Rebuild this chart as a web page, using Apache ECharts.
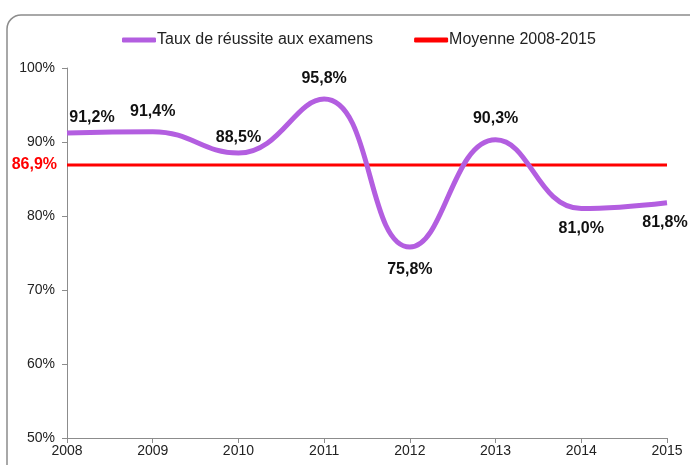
<!DOCTYPE html>
<html>
<head>
<meta charset="utf-8">
<script src="https://cdn.jsdelivr.net/npm/echarts@6/dist/echarts.min.js"></script>
<style>
  html, body { margin: 0; padding: 0; background: #fff; }
  #main { width: 690px; height: 465px; }
</style>
</head>
<body>
<div id="main"></div>
<script>
var annees = ['2008', '2009', '2010', '2011', '2012', '2013', '2014', '2015'];
var tauxReussite = [91.2, 91.4, 88.5, 95.8, 75.8, 90.3, 81.0, 81.8];
var moyenne = [86.9, 86.9, 86.9, 86.9, 86.9, 86.9, 86.9, 86.9];

// placement des étiquettes (style uniquement)
var posEtiquettes = [
    { position: 'top', offset: [25, 0] },
    { position: 'top', offset: [0, -4] },
    { position: 'top', offset: [0, 0] },
    { position: 'top', offset: [0, -4] },
    { position: 'bottom', offset: [0, 7] },
    { position: 'top', offset: [0, -5] },
    { position: 'bottom', offset: [0, 4] },
    { position: 'bottom', offset: [-2, 4] }
];

function fmt(v) {
    return v.toFixed(1).replace('.', ',') + '%';
}

var myChart = echarts.init(document.getElementById('main'));

var option = {
    backgroundColor: '#fff',
    textStyle: { fontFamily: 'Liberation Sans, Arial, sans-serif' },
    graphic: [{
        type: 'rect',
        shape: { x: 7, y: 15, width: 700, height: 480, r: 14 },
        style: { fill: 'none', stroke: '#8c8c8c', lineWidth: 1.5 },
        silent: true
    }],
    legend: {
        top: 27,
        left: 117,
        itemWidth: 34,
        itemHeight: 5,
        itemGap: 41,
        textStyle: { fontSize: 16, color: '#222', padding: [0, 0, 0, -4] },
        data: [
            { name: 'Taux de réussite aux examens', icon: 'roundRect' },
            { name: 'Moyenne 2008-2015', icon: 'roundRect' }
        ]
    },
    grid: { left: 67, right: 23, top: 68, bottom: 27 },
    xAxis: {
        type: 'category',
        boundaryGap: false,
        data: annees,
        axisLine: { lineStyle: { color: '#8c8c8c' } },
        axisTick: { length: 5, lineStyle: { color: '#8c8c8c' } },
        axisLabel: { fontSize: 14, color: '#222', margin: 6 },
        splitLine: { show: false }
    },
    yAxis: {
        type: 'value',
        min: 50,
        max: 100,
        interval: 10,
        axisLine: { show: true, lineStyle: { color: '#8c8c8c' } },
        axisTick: { show: true, length: 5, lineStyle: { color: '#8c8c8c' } },
        axisLabel: { fontSize: 14, color: '#222', margin: 12, formatter: '{value}%' },
        splitLine: { show: false }
    },
    series: [
        {
            name: 'Moyenne 2008-2015',
            type: 'line',
            data: moyenne.map(function (v, i) {
                return {
                    value: v,
                    label: {
                        show: i === 0,
                        position: 'left',
                        distance: 10,
                        formatter: function (p) { return fmt(p.value); },
                        color: '#ff0000',
                        fontWeight: 'bold',
                        fontSize: 16
                    }
                };
            }),
            symbol: 'circle',
            symbolSize: 0,
            showSymbol: true,
            color: '#ff0000',
            lineStyle: { color: '#ff0000', width: 3 },
            z: 2
        },
        {
            name: 'Taux de réussite aux examens',
            type: 'line',
            smooth: 0.45,
            data: tauxReussite.map(function (v, i) {
                return {
                    value: v,
                    label: {
                        show: true,
                        position: posEtiquettes[i].position,
                        offset: posEtiquettes[i].offset,
                        distance: 8
                    }
                };
            }),
            symbol: 'circle',
            symbolSize: 0,
            showSymbol: true,
            color: '#b35ee0',
            lineStyle: { color: '#b35ee0', width: 5 },
            label: {
                formatter: function (p) { return fmt(p.value); },
                color: '#111',
                fontWeight: 'bold',
                fontSize: 16
            },
            z: 3
        }
    ]
};

myChart.setOption(option);
</script>
</body>
</html>
